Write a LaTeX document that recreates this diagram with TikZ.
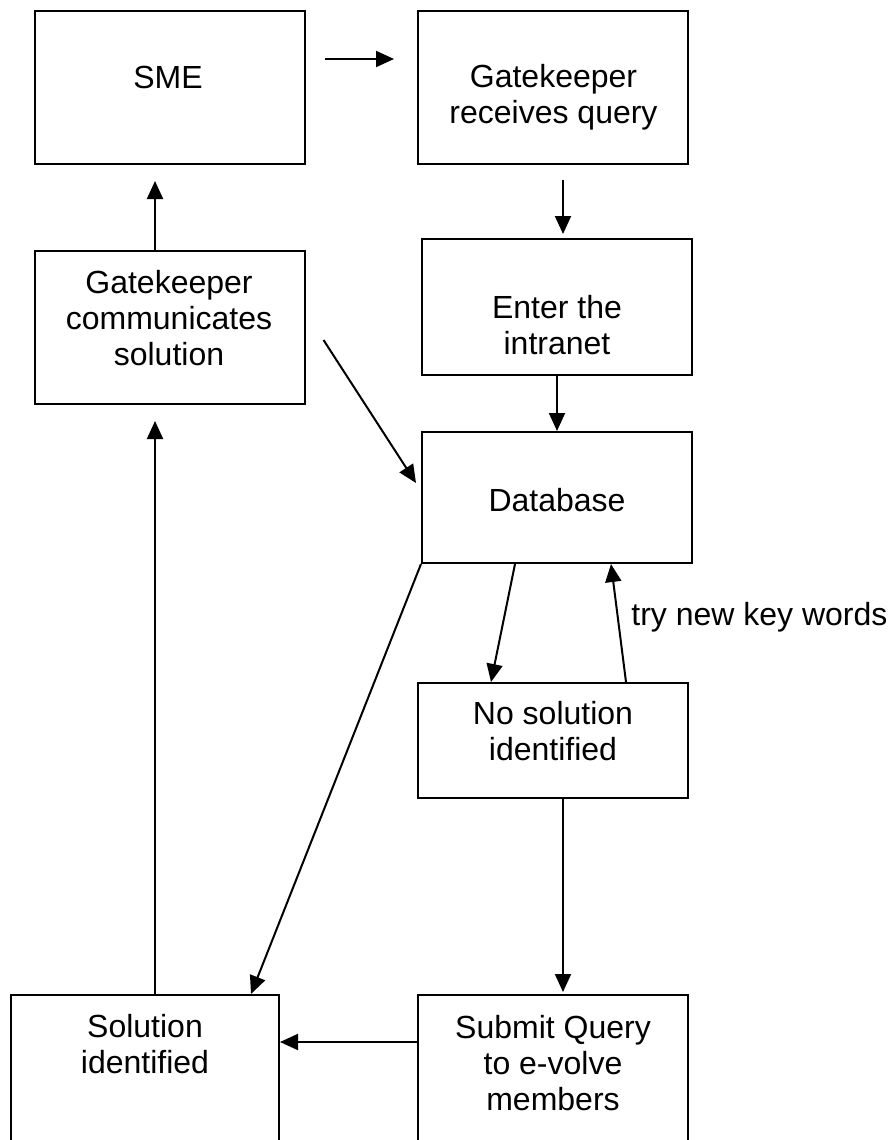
\documentclass[tikz,border=0pt]{standalone}
\usepackage{fontspec}
\setmainfont{Liberation Sans}
\usetikzlibrary{arrows.meta}
\tikzset{
  box/.style={draw,rectangle,line width=1pt,minimum width=135pt,inner sep=0pt},
  txt/.style={align=center,font=\fontsize{16}{18}\selectfont,inner sep=0pt},
  flow/.style={-{Triangle[length=9pt,width=8pt]},line width=1pt},
}
\begin{document}
\begin{tikzpicture}[x=0.5pt,y=-0.5pt]
        \useasboundingbox (0,0) rectangle (891,1140);
        \clip (0,0) rectangle (891,1140);
        \node[box,minimum height=76.5pt] (sme) at (169.5,87.5) {};
        \node[box,minimum height=76.5pt] (gkrecv) at (553,87.5) {};
        \node[box,minimum height=68pt] (enter) at (557,307) {};
        \node[box,minimum height=76.5pt] (gkcomm) at (169.5,327.5) {};
        \node[box,minimum height=65.5pt] (db) at (557,497.5) {};
        \node[box,minimum height=57.5pt] (nosol) at (553,740.5) {};
        \node[box,minimum width=134pt,minimum height=102.5pt] (solid) at (145,1097.5) {};
        \node[box,minimum height=102.5pt] (submit) at (553,1097.5) {};
        \node[txt] (smetxt) at (168,77) {SME};
        \node[txt] (gkrecvtxt) at (553.5,97) {Gatekeeper\\receives query};
        \node[txt] (entertxt) at (557,325) {Enter the\\intranet};
        \node[txt] (gkcommtxt) at (169,318) {Gatekeeper\\communicates\\solution};
        \node[txt] (dbtxt) at (557,500) {Database};
        \node[txt] (nosoltxt) at (553,731.5) {No solution\\identified};
        \node[txt] (solidtxt) at (145,1044.5) {Solution\\identified};
        \node[txt] (submittxt) at (553,1063) {Submit Query\\to e-volve\\members};
        \node[txt,anchor=west] (retry) at (631,617) {try new key words};
        \draw[flow,shorten <=9.5pt,shorten >=11.5pt] ([yshift=14.25pt]sme.east) -- ([yshift=14.25pt]gkrecv.west);
        \draw[flow,shorten <=7.5pt,shorten >=2pt] ([xshift=5pt]gkrecv.south) -- ([xshift=5pt]gkrecv.south |- enter.north);
        \draw[flow] (enter) -- (db);
        \draw[flow] ([xshift=-21pt]db.south) -- ([xshift=-31pt]nosol.north);
        \draw[flow] ([xshift=36.5pt]nosol.north) -- ([xshift=27pt]db.south);
        \draw[flow,shorten >=1pt] ([xshift=5pt]nosol.south) -- ([xshift=5pt]submit.north);
        \draw[flow] ([yshift=-24pt]submit.north west) -- ([yshift=-24pt]solid.north east);
        \draw[flow,shorten >=8pt] ([xshift=-7.25pt]gkcomm.south |- solid.north) -- ([xshift=-7.25pt]gkcomm.south);
        \draw[flow,shorten >=8pt] ([xshift=-7.25pt]gkcomm.north) -- ([xshift=-7.25pt]sme.south);
        \draw[flow] ([xshift=9pt,yshift=-6.25pt]gkcomm.east) -- ([xshift=-2.5pt,yshift=7.25pt]db.west);
        \draw[flow] (db.south west) -- ([xshift=53pt]solid.north);
    \end{tikzpicture}
\end{document}
